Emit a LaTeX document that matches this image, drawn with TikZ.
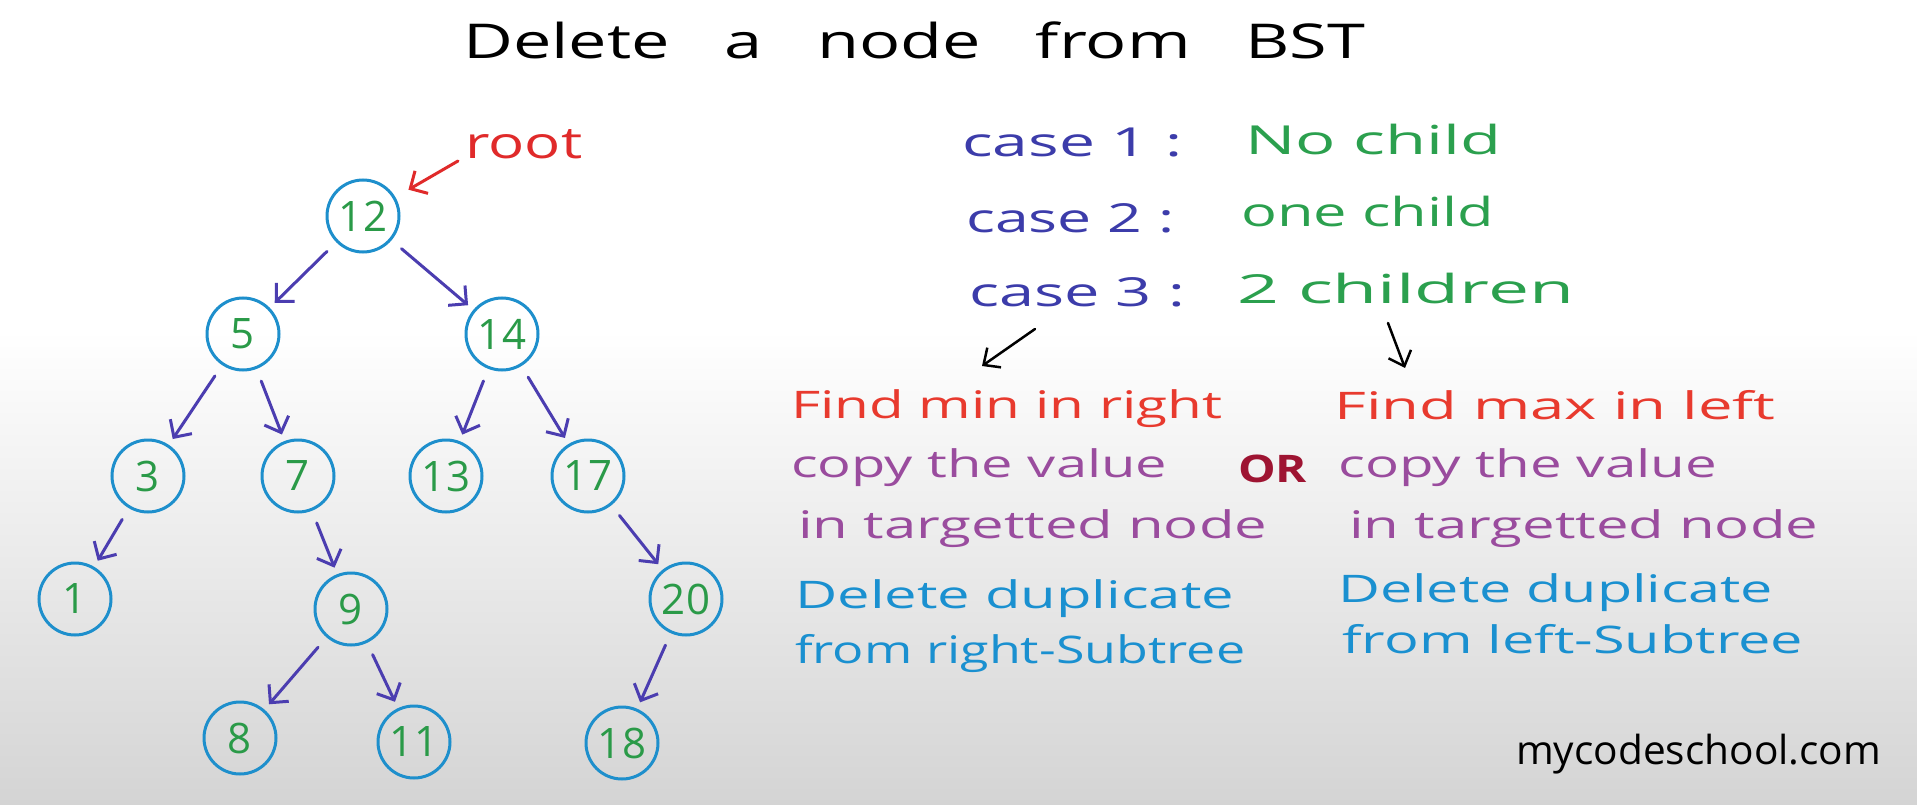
\documentclass[tikz,border=0pt]{standalone}
\usepackage{fontspec}
\setmainfont{Open Sans}
\usetikzlibrary{arrows.meta}
\definecolor{circ}{HTML}{1E8FCC}
\definecolor{numg}{HTML}{2A9A48}
\definecolor{edgec}{HTML}{4B3DB0}
\definecolor{rootred}{HTML}{E02A2A}
\definecolor{casec}{HTML}{3C3CAA}
\definecolor{greent}{HTML}{2BA04E}
\definecolor{findred}{HTML}{E83A2E}
\definecolor{copyp}{HTML}{9A4C9E}
\definecolor{orred}{HTML}{9E1432}
\definecolor{delb}{HTML}{1A90D0}
\definecolor{bggray}{HTML}{D4D4D4}
\newcommand{\fitw}[2]{\resizebox{#1pt}{\height}{#2}}
\newcommand{\fsz}[1]{\fontsize{#1}{#1}\selectfont}
\begin{document}
\begin{tikzpicture}[x=1pt,y=-1pt,
  bst/.style={circle,draw=circ,line width=3pt,minimum size=72pt,inner sep=0pt,text=numg,font=\fsz{42}},
  treearr/.style={draw=edgec,line width=3pt,line cap=round,-{Straight Barb[length=13pt,width=26pt,line width=3pt]},shorten <=13pt,shorten >=7pt},
  redarr/.style={draw=rootred,line width=3pt,line cap=round,-{Straight Barb[length=13pt,width=26pt,line width=3pt]}},
  blackarr/.style={draw=black,line width=2.5pt,line cap=round,-{Straight Barb[length=13pt,width=24pt,line width=2.5pt]}},
  txt/.style={anchor=base west,inner sep=0pt},
  bodytxt/.style={txt,font=\fsz{38}}
]
\useasboundingbox (0,0) rectangle (1917,805);
\fill[white] (0,0) rectangle (1917,805);
\shade[top color=white,bottom color=bggray] (0,330) rectangle (1917,805);

% title
\node[txt,text=black,font=\fsz{48}] (title) at (463,59)
  {\fitw{902}{Delete\hspace{0.8em}a\hspace{0.8em}node\hspace{0.8em}from\hspace{0.8em}BST}};

% tree
\node[bst] (n12) at (363,216) {12};
\node[bst] (n5)  at (243,334) {5};
\node[bst] (n14) at (502,334) {14};
\node[bst] (n3)  at (148,476) {3};
\node[bst] (n7)  at (298,476) {7};
\node[bst] (n13) at (446,476) {13};
\node[bst] (n17) at (588,476) {17};
\node[bst] (n1)  at (75,599)  {1};
\node[bst] (n9)  at (351,609) {9};
\node[bst] (n20) at (686,599) {20};
\node[bst] (n8)  at (240,738) {8};
\node[bst] (n11) at (414,742) {11};
\node[bst] (n18) at (622,743) {18};

\draw[treearr] (n12) -- (n5);
\draw[treearr] (n12) -- (n14);
\draw[treearr] (n5) -- (n3);
\draw[treearr] (n5) -- (n7);
\draw[treearr] (n14) -- (n13);
\draw[treearr] (n14) -- (n17);
\draw[treearr] (n3) -- (n1);
\draw[treearr] (n7) -- (n9);
\draw[treearr] (n17) -- (n20);
\draw[treearr] (n9) -- (n8);
\draw[treearr] (n9) -- (n11);
\draw[treearr] (n20) -- (n18);

% root label
\node[txt,text=rootred,font=\fsz{44}] (root) at (465,159) {\fitw{117}{root}};
\coordinate (rootstart) at (458,161);
\draw[redarr,shorten >=15pt] (rootstart) -- (n12);

% cases
\node[txt,text=casec,font=\fsz{40}] (c1) at (962,157) {\fitw{220}{case 1 :}};
\node[txt,text=casec,font=\fsz{40}] (c2) at (966,233) {\fitw{208}{case 2 :}};
\node[txt,text=casec,font=\fsz{40}] (c3) at (969,306) {\fitw{216}{case 3 :}};
\node[txt,text=greent,font=\fsz{40}] (d1) at (1245,155) {\fitw{256}{No child}};
\node[txt,text=greent,font=\fsz{40}] (d2) at (1241,227) {\fitw{253}{one child}};
\node[txt,text=greent,font=\fsz{40}] (d3) at (1237,303) {\fitw{337}{2 children}};

\coordinate (b1s) at (1035,329);
\coordinate (b1e) at (982,366);
\coordinate (b2s) at (1388,323);
\coordinate (b2e) at (1405,368);
\draw[blackarr] (b1s) -- (b1e);
\draw[blackarr] (b2s) -- (b2e);

% left column
\node[bodytxt,text=findred] (fl) at (791,418) {\fitw{431}{Find min in right}};
\node[bodytxt,text=copyp] (cl) at (791,477) {\fitw{376}{copy the value}};
\node[bodytxt,text=copyp] (tl) at (798,538) {\fitw{469}{in targetted node}};
\node[bodytxt,text=delb] (dl) at (795,608) {\fitw{439}{Delete duplicate}};
\node[bodytxt,text=delb] (sl) at (795,663) {\fitw{450}{from right-Subtree}};

% OR
\node[txt,text=orred,font=\fsz{38}\bfseries] (or) at (1238,482) {\fitw{69}{OR}};

% right column
\node[bodytxt,text=findred] (fr) at (1334,419) {\fitw{441}{Find max in left}};
\node[bodytxt,text=copyp] (cr) at (1338,477) {\fitw{379}{copy the value}};
\node[bodytxt,text=copyp] (tr) at (1349,538) {\fitw{469}{in targetted node}};
\node[bodytxt,text=delb] (dr) at (1338,602) {\fitw{435}{Delete duplicate}};
\node[bodytxt,text=delb] (sr) at (1342,653) {\fitw{461}{from left-Subtree}};

% brand
\node[txt,text=black,font=\fsz{40}] (brand) at (1516,764) {\fitw{365}{mycodeschool.com}};
\end{tikzpicture}
\end{document}
